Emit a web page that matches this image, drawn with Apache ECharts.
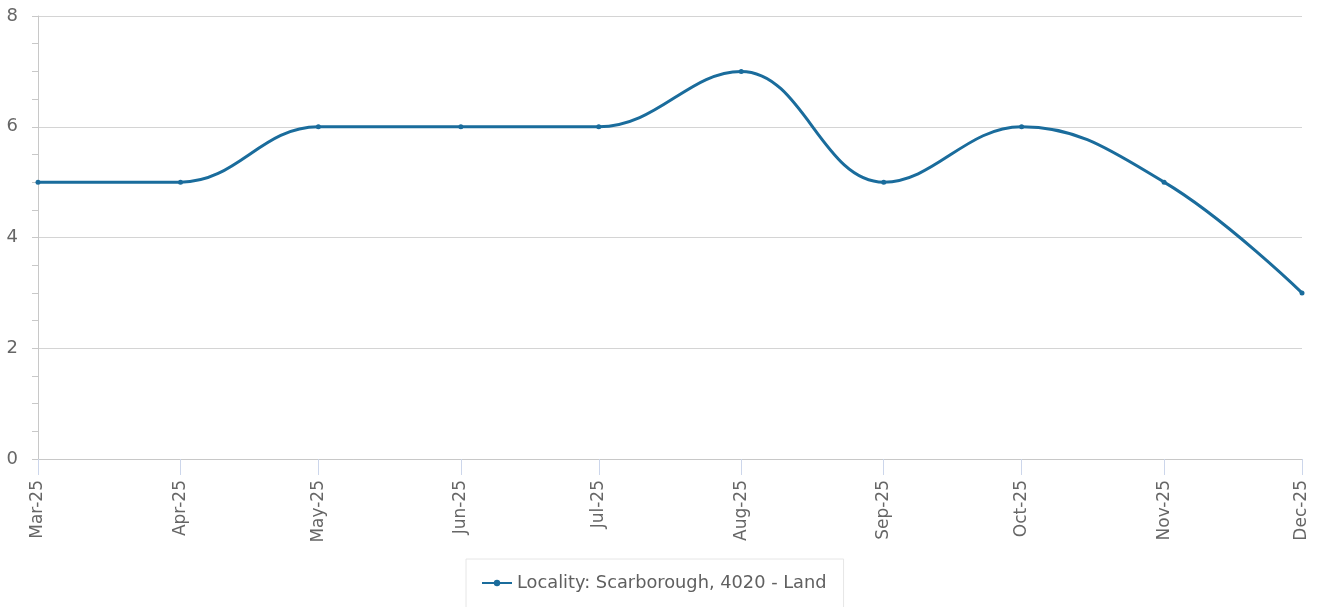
<!DOCTYPE html>
<html>
<head>
<meta charset="utf-8">
<script src="https://cdn.jsdelivr.net/npm/echarts@6/dist/echarts.min.js"></script>
<style>
  html, body { margin: 0; padding: 0; background: #fff; }
  #chart { width: 1322px; height: 607px; }
</style>
</head>
<body>
<div id="chart"></div>
<script>
// monthly points, Mar-25 .. Dec-25
var months = ['2025-03-01', '2025-04-01', '2025-05-01', '2025-06-01', '2025-07-01',
              '2025-08-01', '2025-09-01', '2025-10-01', '2025-11-01', '2025-12-01'];
var values = [5, 5, 6, 6, 6, 7, 5, 6, 5, 3];
var seriesName = 'Locality: Scarborough, 4020 - Land';
var monthNames = ['Jan', 'Feb', 'Mar', 'Apr', 'May', 'Jun', 'Jul', 'Aug', 'Sep', 'Oct', 'Nov', 'Dec'];

var myChart = echarts.init(document.getElementById('chart'));

var points = months.map(function (m, i) { return [m, values[i]]; });

var option = {
    animation: false,
    textStyle: { fontFamily: 'DejaVu Sans' },
    grid: { left: 38, right: 20, top: 16, bottom: 148 },
    legend: {
        data: [seriesName],
        top: 559,
        left: 466,
        padding: [15, 17, 40, 15],
        borderColor: '#e6e6e6',
        borderWidth: 1,
        itemWidth: 30,
        itemHeight: 8,
        textStyle: { color: '#606060', fontSize: 17.8, fontFamily: 'DejaVu Sans' }
    },
    xAxis: {
        type: 'time',
        min: months[0],
        max: months[months.length - 1],
        splitNumber: 9,
        axisLine: { lineStyle: { color: '#c8c8c8' } },
        axisTick: { show: true, length: 16, lineStyle: { color: '#ccd6eb' } },
        splitLine: { show: false },
        axisLabel: {
            rotate: 90,
            margin: 21,
            color: '#666',
            fontSize: 17,
            showMinLabel: true,
            showMaxLabel: true,
            formatter: function (val) {
                var d = new Date(val);
                return monthNames[d.getMonth()] + '-' + String(d.getFullYear()).slice(2);
            }
        }
    },
    yAxis: {
        type: 'value',
        min: 0,
        max: 8,
        interval: 2,
        axisLine: { show: true, lineStyle: { color: '#c8c8c8' } },
        axisTick: { show: true, length: 6, lineStyle: { color: '#c8c8c8' } },
        minorTick: { show: true, splitNumber: 4, length: 6, lineStyle: { color: '#c8c8c8' } },
        splitLine: { lineStyle: { color: '#d4d4d4' } },
        axisLabel: { color: '#666', fontSize: 18, margin: 20 }
    },
    series: [
        {
            name: seriesName,
            type: 'line',
            smooth: 0.4,
            symbol: 'circle',
            symbolSize: 5,
            color: '#1a6c9c',
            lineStyle: { width: 3, color: '#1a6c9c' },
            itemStyle: { color: '#1a6c9c' },
            data: points
        }
    ]
};

option && myChart.setOption(option);
</script>
</body>
</html>
